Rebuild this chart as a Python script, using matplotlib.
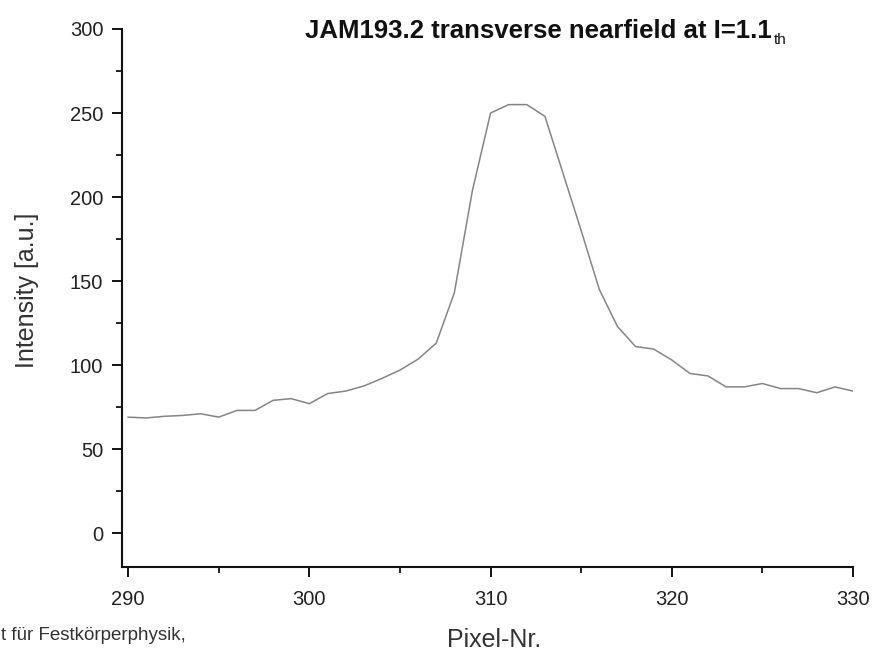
import matplotlib
matplotlib.use("Agg")
import matplotlib.pyplot as plt
from matplotlib.ticker import MultipleLocator

plt.rcParams['font.family'] = ['Liberation Sans', 'DejaVu Sans']

pixel = [290, 291, 292, 293, 294, 295, 296, 297, 298, 299,
         300, 301, 302, 303, 304, 305, 306, 307, 308, 309,
         310, 311, 312, 313, 314, 315, 316, 317, 318, 319,
         320, 321, 322, 323, 324, 325, 326, 327, 328, 329, 330]
intensity = [69, 68.5, 69.5, 70, 71, 69, 73, 73, 79, 80,
             77, 83, 84.5, 87.5, 92, 97, 103.5, 113, 143, 204,
             250, 255, 255, 248, 214, 180, 145, 123, 111, 109.5,
             103, 95, 93.5, 87, 87, 89, 86, 86, 83.5, 87, 84.5]

W, H = 874, 654
fig = plt.figure(figsize=(W / 100, H / 100), dpi=100)
ax = fig.add_axes([122 / W, 1 - 567 / H, (853 - 122) / W, (567 - 29) / H])

ax.plot(pixel, intensity, color='#858585', lw=1.1)

ax.set_xlim(289.66, 330)
ax.set_ylim(-20.2, 300)
ax.xaxis.set_major_locator(MultipleLocator(10))
ax.xaxis.set_minor_locator(MultipleLocator(5))
ax.yaxis.set_major_locator(MultipleLocator(50))
ax.yaxis.set_minor_locator(MultipleLocator(25))

for s in ['top', 'right']:
    ax.spines[s].set_visible(False)
for s in ['left', 'bottom']:
    ax.spines[s].set_linewidth(1.5)
    ax.spines[s].set_color('#111111')

ax.tick_params(which='major', direction='out', length=7.5, width=1.4,
               labelsize=14.5, color='#111111', labelcolor='#222222')
ax.tick_params(which='minor', direction='out', length=4.5, width=1.3, color='#111111')
ax.tick_params(axis='x', which='major', pad=9)
ax.tick_params(axis='y', which='major', pad=6)

fig.text(27 / W, 1 - 290 / H, 'Intensity [a.u.]', rotation=90, ha='center', va='center',
         fontsize=18, color='#333333')
fig.text(494 / W, 1 - 647 / H, 'Pixel-Nr.', ha='center', va='baseline',
         fontsize=18, color='#333333')

t = fig.text(305 / W, 1 - 38 / H, 'JAM193.2 transverse nearfield at I=1.1',
             ha='left', va='baseline', fontsize=18.5, fontweight='bold', color='#111111')
fig.canvas.draw()
bb = t.get_window_extent()
fig.text((bb.x1 + 2) / W, 1 - 44 / H, 'th', ha='left', va='baseline',
         fontsize=11, color='#111111')

fig.text(1 / W, 1 - 640 / H, 't für Festkörperphysik,', ha='left', va='baseline',
         fontsize=13.5, color='#333333')

fig.savefig('out.png', dpi=100, facecolor='white')
